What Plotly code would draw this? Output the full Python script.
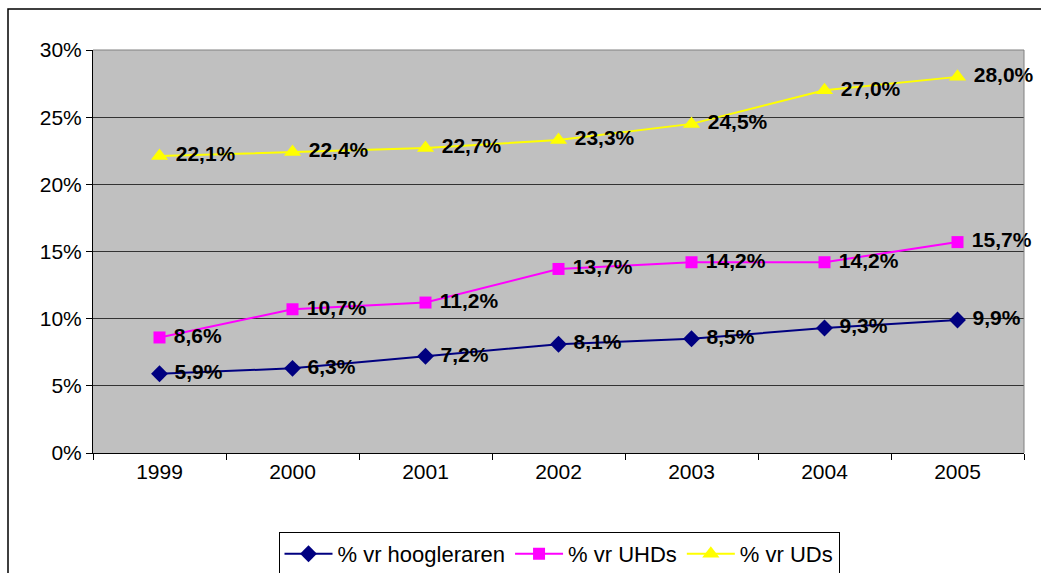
import plotly.graph_objects as go

years = ["1999", "2000", "2001", "2002", "2003", "2004", "2005"]
hoogleraren = [0.059, 0.063, 0.072, 0.081, 0.085, 0.093, 0.099]
uhds = [0.086, 0.107, 0.112, 0.137, 0.142, 0.142, 0.157]
uds = [0.221, 0.224, 0.227, 0.233, 0.245, 0.270, 0.280]

series_names = ["% vr hoogleraren", "% vr UHDs", "% vr UDs"]
FONT = "Arial, Liberation Sans, sans-serif"

fig = go.Figure()
specs = [
    (hoogleraren, series_names[0], "#000080", "diamond", 13),
    (uhds, series_names[1], "#FF00FF", "square", 12),
    (uds, series_names[2], "#FFFF00", "triangle-up", 15),
]
for vals, name, color, sym, size in specs:
    fig.add_trace(go.Scatter(
        x=years, y=vals, name=name, mode="lines+markers+text",
        line=dict(color=color, width=2),
        marker=dict(symbol=sym, size=size, color=color),
        texttemplate="\u00a0%{y:.1%}", textposition="middle right",
        textfont=dict(family=FONT, size=21, color="black", weight="bold"),
        cliponaxis=False,
    ))

L, R, T, B = 93, 17, 50, 120
W, H = 1041, 573
pw, ph = W - L - R, H - T - B

fig.update_layout(
    width=W, height=H,
    margin=dict(l=L, r=R, t=T, b=B),
    paper_bgcolor="white", plot_bgcolor="#C0C0C0",
    separators=",.",
    font=dict(family=FONT, size=21, color="black"),
    showlegend=True,
    legend=dict(
        orientation="h", xref="container", yref="container",
        x=559 / W, xanchor="center", y=1 - 532 / H, yanchor="top",
        bordercolor="black", borderwidth=1, bgcolor="white",
        font=dict(family=FONT, size=22, color="black"),
        itemwidth=48,
    ),
    xaxis=dict(
        type="category", range=[-0.5, 6.5], tickson="boundaries",
        ticks="outside", ticklen=6, tickcolor="black",
        showgrid=False, showline=True, linecolor="black", linewidth=1,
        mirror=False, tickfont=dict(size=21),
    ),
    yaxis=dict(
        range=[0, 0.30], tickvals=[0, 0.05, 0.10, 0.15, 0.20, 0.25, 0.30],
        tickformat=".0%", ticks="outside", ticklen=6, tickcolor="black",
        showgrid=True, gridcolor="#333333", gridwidth=1,
        showline=True, linecolor="black", linewidth=1,
        zeroline=False, tickfont=dict(size=21),
    ),
    shapes=[
        dict(type="line", xref="paper", yref="paper", x0=0, x1=1, y0=1, y1=1,
             line=dict(color="#808080", width=1)),
        dict(type="line", xref="paper", yref="paper", x0=1, x1=1, y0=0, y1=1,
             line=dict(color="#808080", width=1)),
        dict(type="rect", xref="paper", yref="paper",
             x0=(8 - L) / pw, x1=(W + 20 - L) / pw,
             y0=(453 - (H + 20)) / ph, y1=(453 - 9) / ph,
             line=dict(color="black", width=1.5), layer="below"),
    ],
)

fig.write_html("out.html", config={"displayModeBar": False},
               post_script="document.body.style.margin='0';")
